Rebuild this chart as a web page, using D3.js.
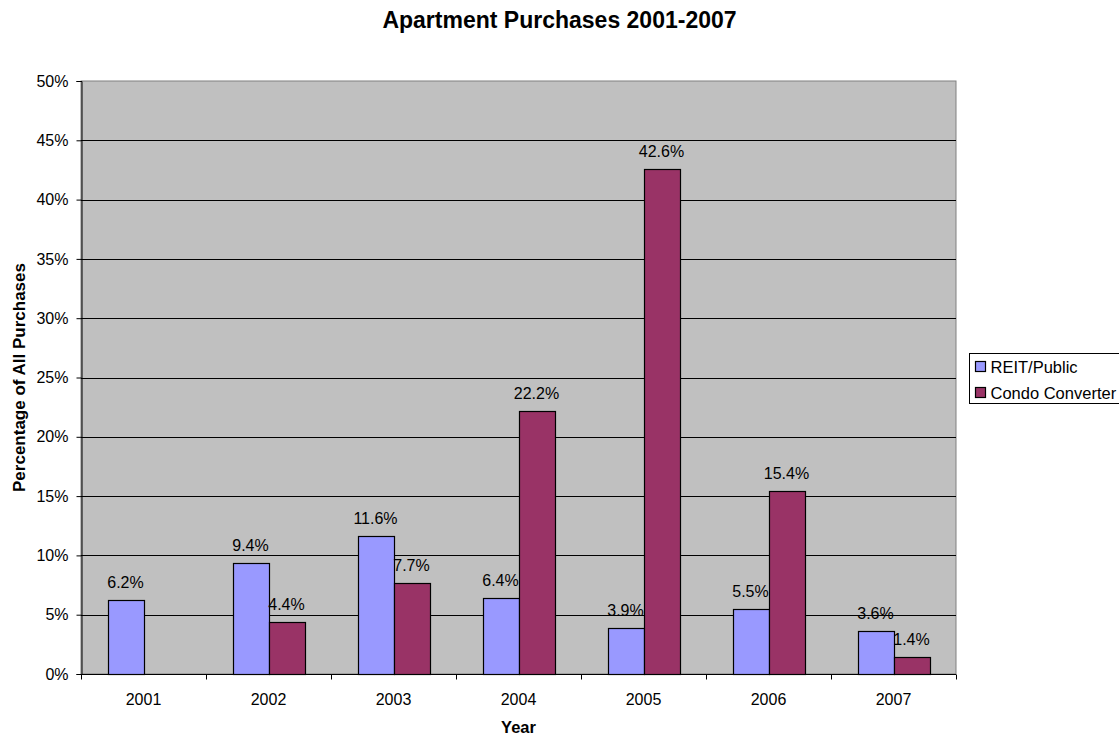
<!DOCTYPE html>
<html>
<head>
<meta charset="utf-8">
<script src="https://cdn.jsdelivr.net/npm/d3@7"></script>
<style>
body { margin:0; background:#fff; }
svg text { font-family: "Liberation Sans", Arial, sans-serif; fill:#000; }
</style>
</head>
<body>
<svg id="chart" width="1119" height="738"></svg>
<script>
var years = ["2001","2002","2003","2004","2005","2006","2007"];
var seriesNames = ["REIT/Public","Condo Converter"];
var reitValues = [6.2, 9.4, 11.6, 6.4, 3.9, 5.5, 3.6];
var condoValues = [null, 4.4, 7.7, 22.2, 42.6, 15.4, 1.4];
var yTicks = [0,5,10,15,20,25,30,35,40,45,50];
var colors = ["#9999FF","#993366"];

var svg = d3.select("#chart"),
    margin = {top: 81, right: 163, bottom: 64, left: 81},
    width = +svg.attr("width") - margin.left - margin.right,
    height = +svg.attr("height") - margin.top - margin.bottom,
    g = svg.append("g").attr("transform", "translate(" + margin.left + "," + margin.top + ")");

var x0 = d3.scaleBand().domain(years).range([0, width]);
var groupW = 72;
var x1 = d3.scaleBand().domain(seriesNames)
    .range([(x0.bandwidth()-groupW)/2, (x0.bandwidth()+groupW)/2]);
var y = d3.scaleLinear().domain([0,50]).range([height, 0]);

// plot background
g.append("rect")
    .attr("width", width)
    .attr("height", height)
    .attr("fill", "#C0C0C0")
    .attr("stroke", "#808080")
    .attr("stroke-width", 1);

// gridlines
g.selectAll(".grid")
    .data(yTicks.filter(function(d){ return d>0 && d<50; }))
  .enter().append("line")
    .attr("x1", 0).attr("x2", width)
    .attr("y1", function(d){ return Math.round(y(d))+0.5; })
    .attr("y2", function(d){ return Math.round(y(d))+0.5; })
    .attr("stroke", "#000")
    .attr("stroke-width", 1);

// y axis
var yAxis = g.append("g")
    .attr("class","axis axis--y")
    .attr("transform","translate(0.5,0)")
    .call(d3.axisLeft(y).tickValues(yTicks).tickSize(5).tickPadding(8)
        .tickFormat(function(d){ return d + "%"; }));
yAxis.selectAll("text").style("font-size","16px");

// x axis with ticks at category boundaries
var xAxis = g.append("g")
    .attr("class","axis axis--x")
    .attr("transform","translate(0," + (Math.round(height)+0.5) + ")");
xAxis.append("line")
    .attr("x1",0).attr("x2",width)
    .attr("stroke","#000");
xAxis.selectAll(".tick")
    .data(years.concat(["end"]))
  .enter().append("line")
    .attr("x1", function(d,i){ return Math.round(i*x0.bandwidth())+0.5; })
    .attr("x2", function(d,i){ return Math.round(i*x0.bandwidth())+0.5; })
    .attr("y1", 0).attr("y2", 5)
    .attr("stroke","#000");
xAxis.selectAll(".lbl")
    .data(years)
  .enter().append("text")
    .attr("x", function(d){ return x0(d)+x0.bandwidth()/2; })
    .attr("y", 30)
    .attr("text-anchor","middle")
    .style("font-size","16px")
    .text(function(d){ return d; });
g.selectAll(".domain").attr("stroke","#000");

// bars
var data = years.map(function(yr,i){
    return {year: yr, values: [
        {name: seriesNames[0], value: reitValues[i], color: colors[0]},
        {name: seriesNames[1], value: condoValues[i], color: colors[1]}
    ]};
});

var groups = g.selectAll(".group")
    .data(data)
  .enter().append("g")
    .attr("class","group")
    .attr("transform", function(d){ return "translate(" + x0(d.year) + ",0)"; });

groups.selectAll("rect")
    .data(function(d){ return d.values.filter(function(v){ return v.value != null; }); })
  .enter().append("rect")
    .attr("x", function(d){ return Math.round(x1(d.name))+0.5; })
    .attr("y", function(d){ return Math.round(y(d.value))+0.5; })
    .attr("width", Math.round(x1.bandwidth()))
    .attr("height", function(d){ return Math.round(height) - Math.round(y(d.value)); })
    .attr("fill", function(d){ return d.color; })
    .attr("stroke","#000")
    .attr("stroke-width",1.2);

groups.selectAll(".val")
    .data(function(d){ return d.values.filter(function(v){ return v.value != null; }); })
  .enter().append("text")
    .attr("class","val")
    .attr("x", function(d){ return x1(d.name)+x1.bandwidth()/2; })
    .attr("y", function(d){ return y(d.value) - 12; })
    .attr("text-anchor","middle")
    .style("font-size","16px")
    .text(function(d){ return d.value.toFixed(1) + "%"; });

// titles
svg.append("text")
    .attr("x", 559.5)
    .attr("y", 28)
    .attr("text-anchor","middle")
    .style("font-size","23px")
    .style("font-weight","bold")
    .text("Apartment Purchases 2001-2007");

svg.append("text")
    .attr("x", margin.left + width/2)
    .attr("y", 733)
    .attr("text-anchor","middle")
    .style("font-size","16.5px")
    .style("font-weight","bold")
    .text("Year");

svg.append("text")
    .attr("transform","translate(25," + (margin.top + height/2) + ") rotate(-90)")
    .attr("text-anchor","middle")
    .style("font-size","17px")
    .style("font-weight","bold")
    .text("Percentage of All Purchases");

// legend
var legend = svg.append("g").attr("transform","translate(969.5,353.5)");
legend.append("rect")
    .attr("width",170).attr("height",50)
    .attr("fill","#fff").attr("stroke","#000");
var items = legend.selectAll(".item")
    .data(seriesNames)
  .enter().append("g")
    .attr("transform", function(d,i){ return "translate(6," + (13 + i*26) + ")"; });
items.append("rect")
    .attr("x",0).attr("y",-5)
    .attr("width",10).attr("height",10)
    .attr("fill", function(d,i){ return colors[i]; })
    .attr("stroke","#000").attr("stroke-width",1.2);
items.append("text")
    .attr("x",15).attr("y",6)
    .style("font-size","16.5px")
    .text(function(d){ return d; });
</script>
</body>
</html>
